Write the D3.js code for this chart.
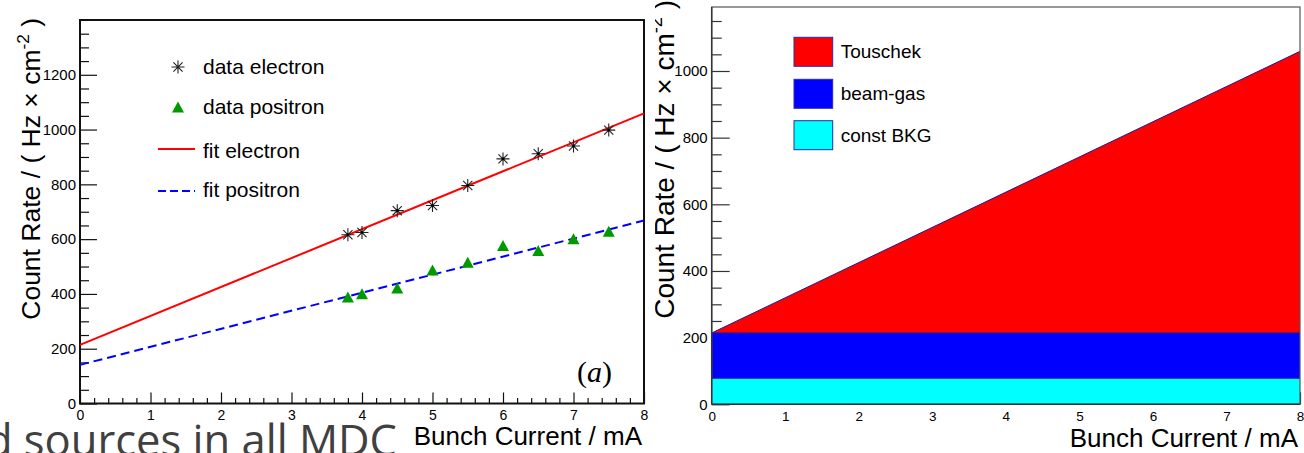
<!DOCTYPE html>
<html>
<head>
<meta charset="utf-8">
<script src="https://cdn.jsdelivr.net/npm/d3@7"></script>
<style>
  html, body { margin: 0; padding: 0; background: #fff; }
  svg { display: block; }
  text { font-family: "Liberation Sans", Arial, Helvetica, sans-serif; }
</style>
</head>
<body>
<svg id="chart" width="1304" height="453"></svg>
<script>
// ---- measured count rates vs bunch current ----
const electronCurrent = [3.8, 4.0, 4.5, 5.0, 5.5, 6.0, 6.5, 7.0, 7.5];
const electronRate    = [616, 624, 704, 723, 796, 893, 912, 940, 998];
const positronCurrent = [3.8, 4.0, 4.5, 5.0, 5.5, 6.0, 6.5, 7.0, 7.5];
const positronRate    = [385, 397, 418, 484, 512, 573, 555, 598, 625];

// ---- linear fits (evaluated at the ends of the current range) ----
const fitCurrent  = [0, 8];
const fitElectron = [214, 1059];
const fitPositron = [141, 668];

// ---- background decomposition (stacked) ----
const bkgCurrent   = [0, 8];
const constBkg     = [78, 78];
const beamGas      = [136, 136];
const touschek     = [0, 845];

// ---- axis ticks ----
const xMajorTicks = [0, 1, 2, 3, 4, 5, 6, 7, 8];
const yMajorLeft  = [0, 200, 400, 600, 800, 1000, 1200];
const yMajorRight = [0, 200, 400, 600, 800, 1000];

const legendLeft  = ["data electron", "data positron", "fit electron", "fit positron"];
const legendRight = ["Touschek", "beam-gas", "const BKG"];
const xTitle = "Bunch Current / mA";

const svg = d3.select("#chart");

function range(a, b, step) {
  const out = [];
  for (let v = a; v <= b + 1e-9; v += step) out.push(+v.toFixed(6));
  return out;
}

function yTitle(g, x, yEnd, size) {
  const t = g.append("text")
    .attr("transform", `translate(${x},${yEnd}) rotate(-90)`)
    .attr("text-anchor", "end")
    .attr("font-size", size)
    .attr("fill", "#000");
  t.append("tspan").text("Count Rate / ( Hz \u00d7 cm");
  t.append("tspan").attr("font-size", size * 0.65).attr("dy", -size * 0.42).text("-2");
  t.append("tspan").attr("dy", size * 0.42).text(" )");
}

// ======================= left panel =======================
const L = { x0: 80, x1: 644, y0: 403.5, y1: 20 };
const xL = d3.scaleLinear([0, 8], [L.x0, L.x1]);
const yL = d3.scaleLinear([0, 1400], [L.y0, L.y1]);
const gL = svg.append("g");

// minor ticks
gL.append("g").attr("transform", `translate(${L.x0},0)`)
  .call(d3.axisLeft(yL).tickValues(range(0, 1400, 50).filter(v => v % 200 !== 0 && v < 1400)).tickSize(-9).tickFormat(""))
  .call(g => g.select(".domain").remove());
gL.append("g").attr("transform", `translate(0,${L.y0})`)
  .call(d3.axisBottom(xL).tickValues(range(0, 8, 0.2).filter(v => Math.abs(v - Math.round(v)) > 1e-6)).tickSize(-5.5).tickFormat(""))
  .call(g => g.select(".domain").remove());
// major ticks + labels
gL.append("g").attr("transform", `translate(${L.x0},0)`)
  .call(d3.axisLeft(yL).tickValues(yMajorLeft).tickSize(-17).tickPadding(4).tickFormat(d3.format("d")))
  .call(g => g.select(".domain").remove())
  .call(g => g.selectAll("text").attr("font-size", 15).attr("fill", "#000").style("font-family", "Liberation Sans, Arial, sans-serif"));
gL.append("g").attr("transform", `translate(0,${L.y0})`)
  .call(d3.axisBottom(xL).tickValues(xMajorTicks).tickSize(-11).tickPadding(6.5).tickFormat(d3.format("d")))
  .call(g => g.select(".domain").remove())
  .call(g => g.selectAll("text").attr("font-size", 14).attr("fill", "#000").style("font-family", "Liberation Sans, Arial, sans-serif"));
gL.selectAll(".tick line").attr("stroke", "#111").attr("stroke-width", 1.2);

// frame
gL.append("rect")
  .attr("x", L.x0).attr("y", L.y1)
  .attr("width", L.x1 - L.x0).attr("height", L.y0 - L.y1)
  .attr("fill", "none").attr("stroke", "#111").attr("stroke-width", 2);

// fit lines
const fitLine = d3.line().x(d => xL(d[0])).y(d => yL(d[1]));
gL.append("path")
  .attr("d", fitLine(fitCurrent.map((c, i) => [c, fitElectron[i]])))
  .attr("stroke", "#ff0000").attr("stroke-width", 2).attr("fill", "none");
gL.append("path")
  .attr("d", fitLine(fitCurrent.map((c, i) => [c, fitPositron[i]])))
  .attr("stroke", "#0000ff").attr("stroke-width", 2).attr("stroke-dasharray", "9,5").attr("fill", "none");

// markers
const r = 6.5, rd = r * 0.7071;
const starPath = `M${-r},0H${r}M0,${-r}V${r}M${-rd},${-rd}L${rd},${rd}M${-rd},${rd}L${rd},${-rd}`;
const triPath = "M0,-6.5L6,4.5L-6,4.5Z";

gL.append("g").selectAll("path")
  .data(electronCurrent.map((c, i) => [c, electronRate[i]]))
  .join("path")
  .attr("transform", d => `translate(${xL(d[0])},${yL(d[1])})`)
  .attr("d", starPath).attr("stroke", "#222").attr("stroke-width", 1.1).attr("fill", "none");
gL.append("g").selectAll("circle")
  .data(electronCurrent.map((c, i) => [c, electronRate[i]]))
  .join("circle")
  .attr("cx", d => xL(d[0])).attr("cy", d => yL(d[1])).attr("r", 1.3).attr("fill", "#000");

gL.append("g").selectAll("path")
  .data(positronCurrent.map((c, i) => [c, positronRate[i]]))
  .join("path")
  .attr("transform", d => `translate(${xL(d[0])},${yL(d[1])})`)
  .attr("d", triPath).attr("fill", "#009a00");

// legend
const legL = gL.append("g");
const legY = [67, 107, 151, 190];
legL.append("path").attr("transform", `translate(178,${legY[0]})`).attr("d", starPath)
  .attr("stroke", "#222").attr("stroke-width", 1.1).attr("fill", "none");
legL.append("path").attr("transform", `translate(178,${legY[1] + 1})`).attr("d", triPath).attr("fill", "#009a00");
legL.append("line").attr("x1", 158).attr("x2", 195).attr("y1", legY[2] - 2).attr("y2", legY[2] - 2)
  .attr("stroke", "#ff0000").attr("stroke-width", 2);
legL.append("line").attr("x1", 158).attr("x2", 195).attr("y1", legY[3] + 1).attr("y2", legY[3] + 1)
  .attr("stroke", "#0000ff").attr("stroke-width", 2).attr("stroke-dasharray", "8,4");
legL.selectAll("text.leg").data(legendLeft).join("text")
  .attr("class", "leg")
  .attr("x", 203).attr("y", (d, i) => legY[i])
  .attr("dy", "0.35em").attr("font-size", 21).attr("fill", "#000")
  .text(d => d);

// panel label
const lab = gL.append("text").attr("x", 612).attr("y", 381.5).attr("text-anchor", "end")
  .attr("font-size", 30).attr("fill", "#000").style("font-family", "Liberation Serif, Times New Roman, serif");
lab.append("tspan").text("(");
lab.append("tspan").attr("font-style", "italic").text("a");
lab.append("tspan").text(")");

// titles
yTitle(gL, 40, 18, 26.5);
gL.append("text").attr("x", 642).attr("y", 445).attr("text-anchor", "end")
  .attr("font-size", 26).attr("fill", "#000").text(xTitle);

// ======================= right panel =======================
svg.append("defs").append("clipPath").attr("id", "rightClip")
  .append("rect").attr("x", 655).attr("y", 0).attr("width", 649).attr("height", 453);
const R = { x0: 711.7, x1: 1300, y0: 404.3, y1: 7 };
const xR = d3.scaleLinear([0, 8], [R.x0, R.x1]);
const yR = d3.scaleLinear([0, 1192], [R.y0, R.y1]);
const gR = svg.append("g").attr("clip-path", "url(#rightClip)");

gR.append("g").attr("transform", `translate(${R.x0},0)`)
  .call(d3.axisLeft(yR).tickValues(range(0, 1150, 50).filter(v => v % 200 !== 0)).tickSize(-10).tickFormat(""))
  .call(g => g.select(".domain").remove());
gR.append("g").attr("transform", `translate(${R.x0},0)`)
  .call(d3.axisLeft(yR).tickValues(yMajorRight).tickSize(-18).tickPadding(4).tickFormat(d3.format("d")))
  .call(g => g.select(".domain").remove())
  .call(g => g.selectAll("text").attr("font-size", 15).attr("fill", "#000").style("font-family", "Liberation Sans, Arial, sans-serif"));
gR.append("g").attr("transform", `translate(0,${R.y0})`)
  .call(d3.axisBottom(xR).tickValues(xMajorTicks).tickSize(-12).tickPadding(7).tickFormat(d3.format("d")))
  .call(g => g.select(".domain").remove())
  .call(g => g.selectAll("text").attr("font-size", 13.5).attr("fill", "#000").style("font-family", "Liberation Sans, Arial, sans-serif"));
gR.selectAll(".tick line").attr("stroke", "#333").attr("stroke-width", 1.2);

// stacked areas
const stack = bkgCurrent.map((c, i) => ({
  c,
  a0: 0,
  a1: constBkg[i],
  b1: constBkg[i] + beamGas[i],
  t1: constBkg[i] + beamGas[i] + touschek[i]
}));
const layers = [
  { lo: "b1", hi: "t1", fill: "#ff0000" },
  { lo: "a1", hi: "b1", fill: "#0000ff" },
  { lo: "a0", hi: "a1", fill: "#00ffff" }
];
layers.forEach(l => {
  gR.append("path")
    .attr("d", d3.area().x(d => xR(d.c)).y0(d => yR(d[l.lo])).y1(d => yR(d[l.hi]))(stack))
    .attr("fill", l.fill);
  gR.append("path")
    .attr("d", d3.line().x(d => xR(d.c)).y(d => yR(d[l.hi]))(stack))
    .attr("stroke", "#1a1a9a").attr("stroke-width", 1).attr("fill", "none");
});

// frame
gR.append("rect")
  .attr("x", R.x0).attr("y", R.y1)
  .attr("width", R.x1 - R.x0).attr("height", R.y0 - R.y1)
  .attr("fill", "none").attr("stroke", "#555").attr("stroke-width", 1.2);
gR.append("line").attr("x1", R.x0).attr("x2", R.x0).attr("y1", R.y1).attr("y2", R.y0)
  .attr("stroke", "#333").attr("stroke-width", 1.5);
gR.append("line").attr("x1", R.x0).attr("x2", R.x1).attr("y1", R.y0).attr("y2", R.y0)
  .attr("stroke", "#333").attr("stroke-width", 1.5);

// legend
const legR = gR.append("g");
const boxY = [37.3, 79.3, 120.7];
const boxFill = ["#ff0000", "#0000ff", "#00ffff"];
legR.selectAll("rect").data(legendRight).join("rect")
  .attr("x", 794).attr("y", (d, i) => boxY[i]).attr("width", 38.7).attr("height", 29)
  .attr("fill", (d, i) => boxFill[i]).attr("stroke", "#2a2ab0").attr("stroke-width", 1);
legR.selectAll("text").data(legendRight).join("text")
  .attr("x", 840.7).attr("y", (d, i) => boxY[i] + 14.5).attr("dy", "0.35em")
  .attr("font-size", 19).attr("fill", "#000").text(d => d);

yTitle(gR, 673.5, 0, 28);
gR.append("text").attr("x", 1298).attr("y", 446.5).attr("text-anchor", "end")
  .attr("font-size", 26).attr("fill", "#000").text(xTitle);

// ======================= caption strip =======================
svg.append("text").attr("x", 397).attr("y", 456).attr("text-anchor", "end")
  .attr("font-size", 43.5).attr("fill", "#404040")
  .style("font-family", "Open Sans, sans-serif")
  .text("d sources in all MDC");
</script>
</body>
</html>
